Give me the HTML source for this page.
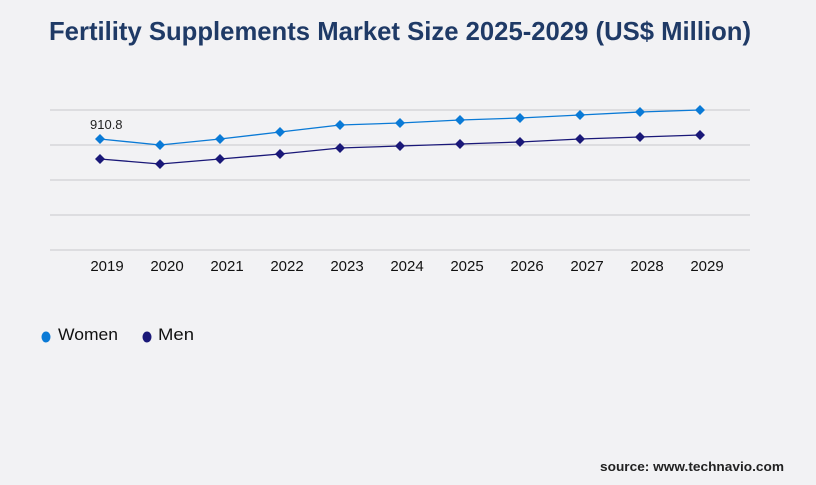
<!DOCTYPE html>
<html><head><style>
body{margin:0;background:#f2f2f4;width:816px;height:480px;overflow:hidden;font-family:"Liberation Sans",sans-serif}
</style></head><body>
<svg width="816" height="480" xmlns="http://www.w3.org/2000/svg">
<rect width="816" height="480" fill="#f2f2f4"/>
<text x="400" y="40" text-anchor="middle" font-size="26" font-weight="bold" fill="#1f3a66" font-family="Liberation Sans, sans-serif" textLength="702" lengthAdjust="spacingAndGlyphs">Fertility Supplements Market Size 2025-2029 (US$ Million)</text>
<g stroke="#c8c8cc" stroke-width="1">
<line x1="50" y1="110" x2="750" y2="110"/><line x1="50" y1="145" x2="750" y2="145"/>
<line x1="50" y1="180" x2="750" y2="180"/><line x1="50" y1="215" x2="750" y2="215"/>
<line x1="50" y1="250" x2="750" y2="250"/>
</g>
<g font-size="15" fill="#111" text-anchor="middle">
<text x="107" y="271">2019</text><text x="167" y="271">2020</text><text x="227" y="271">2021</text><text x="287" y="271">2022</text><text x="347" y="271">2023</text><text x="407" y="271">2024</text><text x="467" y="271">2025</text><text x="527" y="271">2026</text><text x="587" y="271">2027</text><text x="647" y="271">2028</text><text x="707" y="271">2029</text>
</g>
<text x="90" y="129" font-size="13" fill="#222">910.8</text>
<polyline fill="none" stroke="#0a7ad6" stroke-width="1.3" points="100,139 160,145 220,139 280,132 340,125 400,123 460,120 520,118 580,115 640,112 700,110"/>
<polyline fill="none" stroke="#1a1878" stroke-width="1.3" points="100,159 160,164 220,159 280,154 340,148 400,146 460,144 520,142 580,139 640,137 700,135"/>
<g fill="#0a7ad6">
<path d="M100 134l5 5-5 5-5-5z"/><path d="M160 140l5 5-5 5-5-5z"/><path d="M220 134l5 5-5 5-5-5z"/><path d="M280 127l5 5-5 5-5-5z"/><path d="M340 120l5 5-5 5-5-5z"/><path d="M400 118l5 5-5 5-5-5z"/><path d="M460 115l5 5-5 5-5-5z"/><path d="M520 113l5 5-5 5-5-5z"/><path d="M580 110l5 5-5 5-5-5z"/><path d="M640 107l5 5-5 5-5-5z"/><path d="M700 105l5 5-5 5-5-5z"/>
</g>
<g fill="#1a1878">
<path d="M100 154l5 5-5 5-5-5z"/><path d="M160 159l5 5-5 5-5-5z"/><path d="M220 154l5 5-5 5-5-5z"/><path d="M280 149l5 5-5 5-5-5z"/><path d="M340 143l5 5-5 5-5-5z"/><path d="M400 141l5 5-5 5-5-5z"/><path d="M460 139l5 5-5 5-5-5z"/><path d="M520 137l5 5-5 5-5-5z"/><path d="M580 134l5 5-5 5-5-5z"/><path d="M640 132l5 5-5 5-5-5z"/><path d="M700 130l5 5-5 5-5-5z"/>
</g>
<ellipse cx="46" cy="337" rx="4.5" ry="5.5" fill="#0a7ad6"/>
<text x="58" y="340" font-size="17" fill="#111" textLength="60" lengthAdjust="spacingAndGlyphs">Women</text>
<ellipse cx="147" cy="337" rx="4.5" ry="5.5" fill="#1a1878"/>
<text x="158" y="340" font-size="17" fill="#111" textLength="36" lengthAdjust="spacingAndGlyphs">Men</text>
<text x="784" y="471" text-anchor="end" font-size="13" font-weight="bold" fill="#222" textLength="184" lengthAdjust="spacingAndGlyphs">source: www.technavio.com</text>
</svg>
</body></html>
